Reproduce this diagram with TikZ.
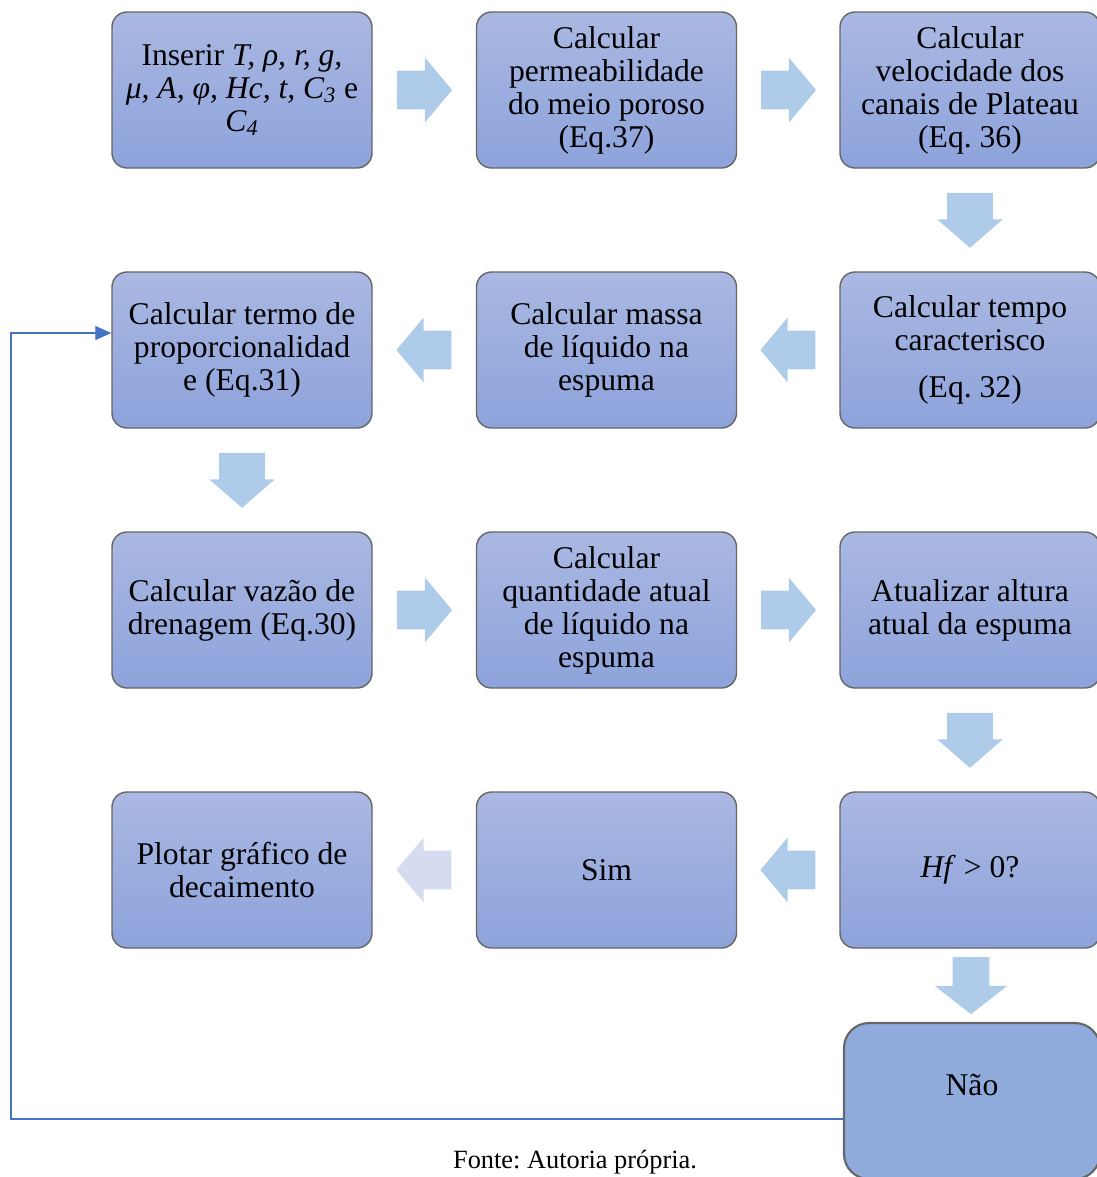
\documentclass[tikz,border=0pt]{standalone}
\usepackage{fontspec}
\setmainfont{Liberation Serif}
\frenchspacing
\definecolor{boxtop}{RGB}{170, 184, 226}
\definecolor{boxbot}{RGB}{141, 163, 219}
\definecolor{boxflat}{RGB}{143, 171, 220}
\definecolor{setacor}{RGB}{174, 204, 234}
\definecolor{setapal}{RGB}{214, 220, 240}
\definecolor{linha}{RGB}{68, 114, 196}
\usetikzlibrary{shapes.arrows, arrows.meta, calc}

\begin{document}
\begin{tikzpicture}[
        every node/.style={font=\fontsize{18}{18.8}\selectfont, align=center},
        caixa/.style={rectangle, rounded corners=0.3cm, draw=black!60, line width=0.8pt, top color=boxtop, bottom color=boxbot, minimum width=5.2cm, minimum height=3.12cm, inner sep=0pt},
        nao/.style={rectangle, rounded corners=0.5cm, draw=black!60, line width=1.2pt, fill=boxflat, minimum width=5.12cm, minimum height=3.12cm, inner sep=0pt, text depth=0.64cm},
        seta/.style={single arrow, anchor=tail, fill=setacor, draw=none, minimum height=1.1cm, inner xsep=0pt, inner ysep=0.38cm, single arrow head extend=0.26cm, single arrow tip angle=100},
        setab/.style={seta, fill=setapal},
        setav/.style={seta, rotate=-90, inner ysep=0.45cm, single arrow head extend=0.2cm, single arrow tip angle=98},
        fb/.style={-{Triangle[length=0.32cm, width=0.28cm]}, linha, line width=0.6pt}
    ]
        \useasboundingbox (0,0) rectangle (21.94,-23.54);

        % Linha 1
        \node[caixa] (inserir) at (4.84, -1.8) {Inserir \textit{T, ρ, r, g,}\\ \textit{μ, A, φ, Hc, t, C\textsubscript{3}} e\\ \textit{C\textsubscript{4}}};
        \node[caixa] (perm)    at (12.13, -1.8) {Calcular\\ permeabilidade\\ do meio poroso\\ (Eq.37)};
        \node[caixa] (vel)     at (19.4, -1.8) {Calcular\\ velocidade dos\\ canais de Plateau\\ (Eq. 36)};

        % Linha 2
        \node[caixa] (termo)   at (4.84, -7.0) {Calcular termo de\\ proporcionalidad\\ e (Eq.31)};
        \node[caixa] (massa)   at (12.13, -7.0) {Calcular massa\\ de líquido na\\ espuma};
        \node[caixa] (tempo)   at (19.4, -7.0) {Calcular tempo\\ caracterisco\\[0.28cm] (Eq. 32)};

        % Linha 3
        \node[caixa] (vazao)   at (4.84, -12.2) {Calcular vazão de\\ drenagem (Eq.30)};
        \node[caixa] (qtd)     at (12.13, -12.2) {Calcular\\ quantidade atual\\ de líquido na\\ espuma};
        \node[caixa] (altura)  at (19.4, -12.2) {Atualizar altura\\ atual da espuma};

        % Linha 4
        \node[caixa] (plot)    at (4.84, -17.4) {Plotar gráfico de\\ decaimento};
        \node[caixa] (sim)     at (12.13, -17.4) {Sim};
        \node[caixa] (teste)   at (19.4, -17.4) {\textit{Hf} > 0?};
        \node[nao]   (naobox)  at (19.44, -22.02) {Não};

        % Setas de bloco (ancoradas na cauda)
        \node[seta] (s1) at ($(inserir.east)!0.5!(perm.west)+(-0.55,0)$) {};
        \node[seta] (s2) at ($(perm.east)!0.5!(vel.west)+(-0.55,0)$) {};
        \node[setav] (s3) at ($(vel.south)!0.5!(tempo.north)+(0,0.55)$) {};
        \node[seta, rotate=180] (s4) at ($(tempo.west)!0.5!(massa.east)+(0.55,0)$) {};
        \node[seta, rotate=180] (s5) at ($(massa.west)!0.5!(termo.east)+(0.55,0)$) {};
        \node[setav] (s6) at ($(termo.south)!0.5!(vazao.north)+(0,0.55)$) {};
        \node[seta] (s7) at ($(vazao.east)!0.5!(qtd.west)+(-0.55,0)$) {};
        \node[seta] (s8) at ($(qtd.east)!0.5!(altura.west)+(-0.55,0)$) {};
        \node[setav] (s9) at ($(altura.south)!0.5!(teste.north)+(0,0.55)$) {};
        \node[seta, rotate=180] (s10) at ($(teste.west)!0.5!(sim.east)+(0.55,0)$) {};
        \node[setab, rotate=180] (s11) at ($(sim.west)!0.5!(plot.east)+(0.55,0)$) {};
        \node[setav, minimum height=1.14cm, inner ysep=0.36cm, single arrow head extend=0.36cm, single arrow tip angle=104] (s12) at ($(teste.south)!0.5!(naobox.north)+(0,0.57)$) {};

        % Retorno
        \coordinate (canto) at (0.22, -22.38);
        \draw[fb] (canto -| naobox.west) -- (canto) |- ([yshift=0.34cm]termo.west);

        \node[font=\fontsize{15}{17}\selectfont] (fonte) at (11.5, -23.24) {Fonte: Autoria própria.};
    \end{tikzpicture}
\end{document}
